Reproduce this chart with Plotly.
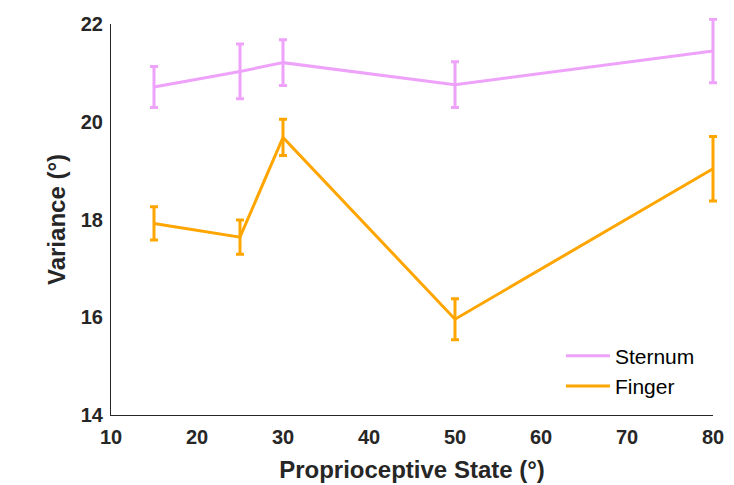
import plotly.graph_objects as go

states = [15, 25, 30, 50, 80]
sternum = [20.71, 21.03, 21.21, 20.76, 21.45]
sternum_err = [0.42, 0.56, 0.47, 0.47, 0.65]
finger = [17.92, 17.64, 19.68, 15.96, 19.04]
finger_err = [0.34, 0.35, 0.37, 0.42, 0.66]

x_ticks = [10, 20, 30, 40, 50, 60, 70, 80]
y_ticks = [14, 16, 18, 20, 22]

STERNUM_C = "#EEA2FA"
FINGER_C = "#FFA500"

# visible axes area (px) and extra room so error caps at the edges are not clipped
PLOT_W, PLOT_H, PAD = 602, 389, 6
XR = [10, 80]
YR = [14, 22]
dx = PLOT_W / (PLOT_W + PAD)
dy = PLOT_H / (PLOT_H + PAD)
XR2 = [XR[0], XR[0] + (XR[1] - XR[0]) / dx]
YR2 = [YR[0], YR[0] + (YR[1] - YR[0]) / dy]

fig = go.Figure()
# empty trace so the visible (tick-labelled) axes get drawn
fig.add_trace(go.Scatter(x=[None], y=[None], xaxis="x", yaxis="y",
                         showlegend=False, hoverinfo="skip", mode="lines"))
fig.add_trace(go.Scatter(
    x=states, y=sternum, mode="lines", name="Sternum", xaxis="x2", yaxis="y2",
    line=dict(color=STERNUM_C, width=3),
    error_y=dict(type="data", array=sternum_err, color=STERNUM_C, thickness=3, width=4),
))
fig.add_trace(go.Scatter(
    x=states, y=finger, mode="lines", name="Finger", xaxis="x2", yaxis="y2",
    line=dict(color=FINGER_C, width=3),
    error_y=dict(type="data", array=finger_err, color=FINGER_C, thickness=3, width=4),
))

axis_common = dict(
    showline=True, linecolor="#262626", linewidth=1,
    ticks="inside", ticklen=6, tickcolor="#262626",
    showgrid=False, zeroline=False, mirror=False, automargin=False,
    tickfont=dict(family="Liberation Sans", size=20, color="#262626", weight="bold"),
)
hidden = dict(visible=False, showgrid=False, zeroline=False, automargin=False)

fig.update_layout(
    xaxis=dict(
        domain=[0, dx], anchor="y",
        range=XR, tickvals=x_ticks, ticktext=[str(v) for v in x_ticks],
        ticklabelstandoff=4,
        title=dict(text="Proprioceptive State (°)", standoff=14,
                   font=dict(family="Liberation Sans", size=24, color="#262626", weight="bold")),
        **axis_common,
    ),
    yaxis=dict(
        domain=[0, dy], anchor="x",
        range=YR, tickvals=y_ticks, ticktext=[str(v) for v in y_ticks],
        ticklabelstandoff=3,
        title=dict(text="Variance (°)", standoff=8,
                   font=dict(family="Liberation Sans", size=24, color="#262626", weight="bold")),
        **axis_common,
    ),
    xaxis2=dict(domain=[0, 1], anchor="y2", range=XR2, **hidden),
    yaxis2=dict(domain=[0, 1], anchor="x2", range=YR2, **hidden),
)

fig.update_layout(
    width=734, height=485,
    margin=dict(l=103, r=29 - PAD, t=16 - PAD, b=78),
    plot_bgcolor="white", paper_bgcolor="white",
    legend=dict(x=0.74, y=0.2, xanchor="left", yanchor="top",
                bgcolor="rgba(255,255,255,0)",
                font=dict(family="Liberation Sans", size=21, color="black"),
                tracegroupgap=0, itemwidth=44),
)

fig.write_html("out.html")
